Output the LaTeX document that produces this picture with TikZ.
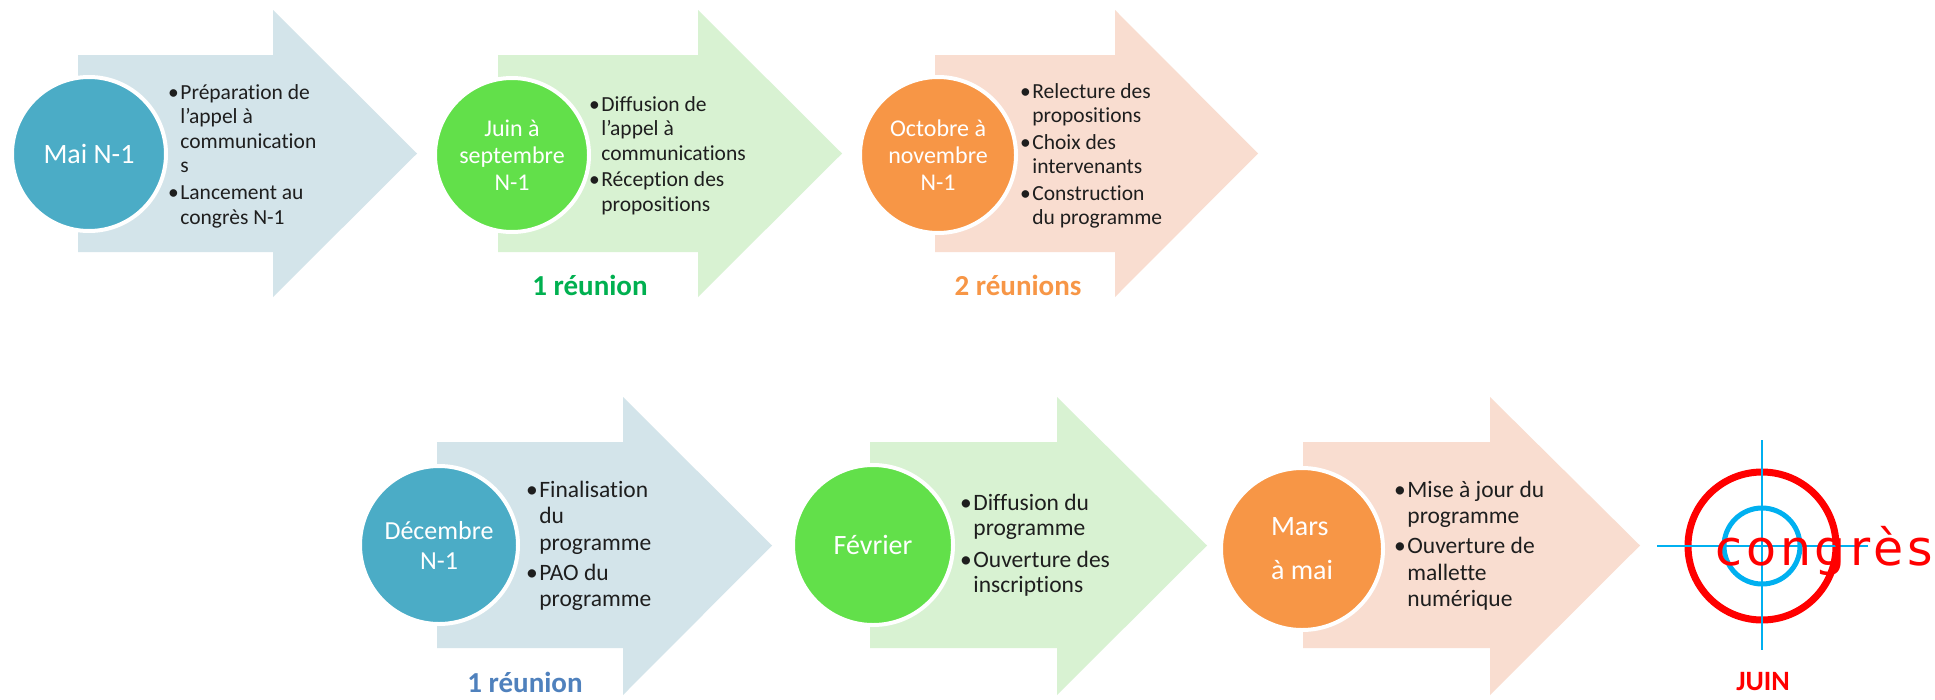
\documentclass[tikz,border=0pt]{standalone}
\usepackage{fontspec}
\setmainfont{Carlito}[Ligatures=NoCommon]
\newfontfamily\cgfont[LetterSpace=8]{DejaVu Sans}
\definecolor{tealc}{HTML}{4BACC6}
\definecolor{tealf}{HTML}{D3E4EA}
\definecolor{greenc}{HTML}{62E04A}
\definecolor{greenf}{HTML}{D8F2D2}
\definecolor{orangec}{HTML}{F79646}
\definecolor{orangef}{HTML}{F9DDD0}
\definecolor{lblgreen}{HTML}{00B050}
\definecolor{lblblue}{HTML}{4F81BD}
\definecolor{tred}{HTML}{FF0000}
\definecolor{tblue}{HTML}{00B0F0}
\definecolor{txt}{HTML}{1E1E1E}
\newcommand\blist[1]{\begin{tabular}[t]{@{}l@{\hspace{1.5pt}}l@{}}#1\end{tabular}}
\tikzset{
  disc/.style={circle, draw=white, line width=4pt, inner sep=0pt, text=white, align=center},
  listtxt/.style={anchor=base west, inner sep=0pt, text=txt},
  toplist/.style={listtxt, font=\fontsize{21.5}{24.5}\selectfont},
  botlist/.style={listtxt, font=\fontsize{23.5}{26.5}\selectfont},
  lbl/.style={anchor=base, inner sep=0pt, font=\fontsize{29}{32}\selectfont\bfseries}
}
\begin{document}
\begin{tikzpicture}[x=1pt,y=-1pt]
\fill[white] (0,0) rectangle (1935,699);
\useasboundingbox (0,0) rectangle (1935,699);
% arrows
\fill[tealf]   (78,55) -- (273,55) -- (273,10) -- (417,153.5) -- (273,297) -- (273,252) -- (78,252) -- cycle;
\fill[greenf]  (498,55) -- (698,55) -- (698,10) -- (842,153.5) -- (698,297) -- (698,252) -- (498,252) -- cycle;
\fill[orangef] (935,55) -- (1115,55) -- (1115,10) -- (1258,153.5) -- (1115,297) -- (1115,252) -- (935,252) -- cycle;
\fill[tealf]   (437,442) -- (623,442) -- (623,397) -- (772,545.5) -- (623,695) -- (623,648) -- (437,648) -- cycle;
\fill[greenf]  (870,442) -- (1057,442) -- (1057,397) -- (1207,545.5) -- (1057,695) -- (1057,648) -- (870,648) -- cycle;
\fill[orangef] (1303,442) -- (1490,442) -- (1490,397) -- (1640,545.5) -- (1490,695) -- (1490,648) -- (1303,648) -- cycle;
% circles
\node[disc, fill=tealc, minimum size=154pt, font=\fontsize{28}{32}\selectfont] (c1) at (89,154) {Mai N-1};
\node[disc, fill=greenc, minimum size=154pt, font=\fontsize{24}{27}\selectfont] (c2) at (512,155) {Juin à\\septembre\\N-1};
\node[disc, fill=orangec, minimum size=156pt, font=\fontsize{24}{27}\selectfont] (c3) at (938,155) {Octobre à\\novembre\\N-1};
\node[disc, fill=tealc, minimum size=158pt, font=\fontsize{26}{30}\selectfont] (c4) at (439,545) {Décembre\\N-1};
\node[disc, fill=greenc, minimum size=160pt, font=\fontsize{28}{32}\selectfont] (c5) at (873,545) {Février};
\node[disc, fill=orangec, minimum size=162pt, font=\fontsize{28}{44}\selectfont, align=left] (c6) at (1302,549) {Mars\\à mai};
% lists
\node[toplist] (t1) at (168,99) {\blist{•&Préparation de\\&l’appel à\\&communication\\&s\\[2.5pt]•&Lancement au\\&congrès N-1}};
\node[toplist] (t2) at (589,111) {\blist{•&Diffusion de\\&l’appel à\\&communications\\[2pt]•&Réception des\\&propositions}};
\node[toplist, font=\fontsize{21.5}{24}\selectfont] (t3) at (1020,98) {\blist{•&Relecture des\\&propositions\\[3pt]•&Choix des\\&intervenants\\[3pt]•&Construction\\&du programme}};
\node[botlist] (t4) at (526,497) {\blist{•&Finalisation\\&du\\&programme\\[3.5pt]•&PAO du\\&programme}};
\node[botlist, font=\fontsize{23.5}{25}\selectfont] (t5) at (960,510) {\blist{•&Diffusion du\\&programme\\[7pt]•&Ouverture des\\&inscriptions}};
\node[botlist] (t6) at (1394,497) {\blist{•&Mise à jour du\\&programme\\[3.5pt]•&Ouverture de\\&mallette\\&numérique}};
% meeting labels
\node[lbl, text=lblgreen] (r1) at (590,295) {1 réunion};
\node[lbl, text=orangec] (r2) at (1018,295) {2 réunions};
\node[lbl, text=lblblue] (r3) at (525,692) {1 réunion};
% target
\coordinate (tc) at (1762,546);
\draw[tred, line width=7pt] (tc) circle (74);
\draw[tblue, line width=5pt] (tc) circle (38);
\draw[tblue, line width=2pt] ([xshift=-105pt]tc) -- ([xshift=106pt]tc);
\draw[tblue, line width=2pt] ([yshift=106pt]tc) -- ([yshift=-104pt]tc);
\node[anchor=base west, inner sep=0pt, text=tred, font=\cgfont\fontsize{49}{52}\selectfont] (cg) at (1715,565) {congrès\kern-6pt};
\node[lbl, text=tred, font=\fontsize{28}{30}\selectfont\bfseries] (juin) at (1763,690) {JUIN};
\end{tikzpicture}
\end{document}
